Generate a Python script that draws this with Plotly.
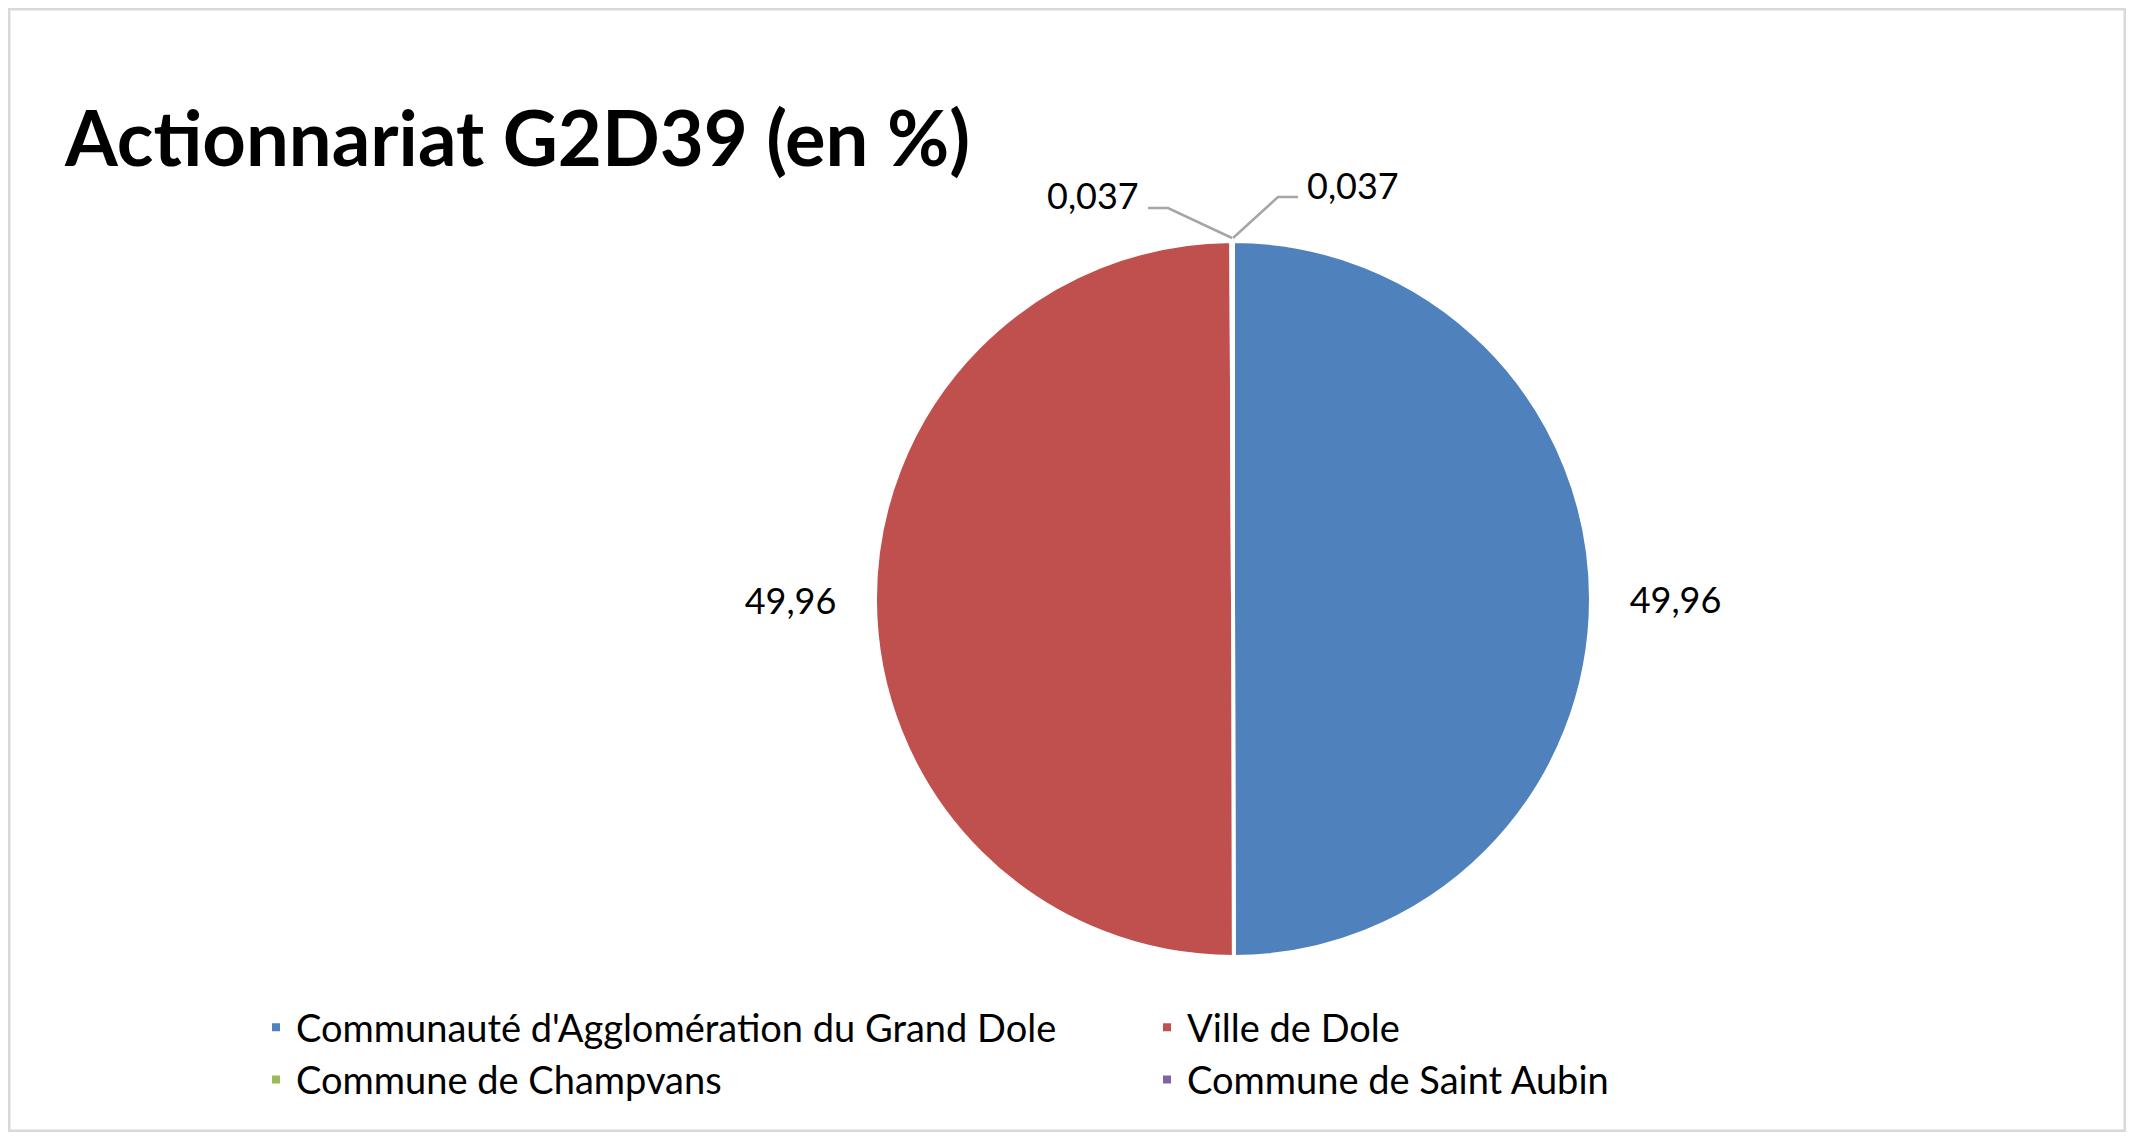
import plotly.graph_objects as go

# actionnariat G2D39, en %
actionnaires = [
    "Communauté d'Agglomération du Grand Dole",
    "Ville de Dole",
    "Commune de Champvans",
    "Commune de Saint Aubin",
]
parts = [49.96, 49.96, 0.037, 0.037]
couleurs = ["#4F81BD", "#C0504D", "#9BBB59", "#8064A2"]

# figure a bit smaller than the window so the body margin gives no scrollbars
W, H = 2118, 1124
FONT = "Lato"
GRIS = "#A6A6A6"

# pie geometry in pixels
cx, cy, r = 1225, 591, 358
haut = cy - r


def fx(px):
    return px / W


def fy(py):
    return 1 - py / H


def fmt(v):
    return str(v).replace(".", ",")


# big slices labelled by the pie itself, a little padding to push them off the edge
pad = "\u00a0" * 3
etiquettes = [pad + fmt(parts[0]), fmt(parts[1]) + pad, "", ""]
positions = ["outside", "outside", "none", "none"]

fig = go.Figure(go.Pie(
    labels=actionnaires,
    values=parts,
    text=etiquettes,
    textinfo="text",
    textposition=positions,
    textfont=dict(family=FONT, size=36, color="black"),
    marker=dict(colors=couleurs, line=dict(color="white", width=4)),
    sort=False,
    direction="clockwise",
    rotation=0,
    hoverinfo="label+value",
    domain=dict(x=[fx(cx - r), fx(cx + r)], y=[fy(cy + r), fy(cy - r)]),
))

# tiny slices: labels with elbow leader lines, like the spreadsheet does
fig.add_annotation(text=fmt(parts[2]), x=fx(cx - 92), y=fy(haut - 46), xref="paper", yref="paper",
                   xanchor="right", yanchor="middle", showarrow=False,
                   font=dict(family=FONT, size=36, color="black"))
fig.add_annotation(text=fmt(parts[3]), x=fx(cx + 72), y=fy(haut - 56), xref="paper", yref="paper",
                   xanchor="left", yanchor="middle", showarrow=False,
                   font=dict(family=FONT, size=36, color="black"))

lignes = [
    [(cx - 85, haut - 33), (cx - 65, haut - 33), (cx - 1, haut - 3)],
    [(cx, haut - 3), (cx + 45, haut - 44), (cx + 65, haut - 44)],
]
formes = []
for pts in lignes:
    chemin = "M " + " L ".join(f"{fx(x)},{fy(y)}" for x, y in pts)
    formes.append(dict(type="path", path=chemin, xref="paper", yref="paper",
                       line=dict(color=GRIS, width=2.5)))
formes.append(dict(type="rect", xref="paper", yref="paper", x0=0, x1=1, y0=0, y1=1,
                   line=dict(color="#D9D9D9", width=5)))

fig.update_layout(
    width=W, height=H,
    margin=dict(l=0, r=0, t=0, b=0),
    paper_bgcolor="white",
    font=dict(family=FONT, color="black"),
    title=dict(text="<b>Actionnariat G2D39 (en %)</b>", x=fx(57), xanchor="left",
               y=fy(131), yanchor="middle",
               font=dict(family=FONT, size=76, color="black")),
    legend=dict(orientation="h", x=fx(248), xanchor="left", y=fy(988), yanchor="top",
                font=dict(family=FONT, size=38), entrywidth=846, entrywidthmode="pixels",
                traceorder="normal", itemclick=False, bgcolor="rgba(0,0,0,0)"),
    shapes=formes,
)

fig.write_html("out.html")
